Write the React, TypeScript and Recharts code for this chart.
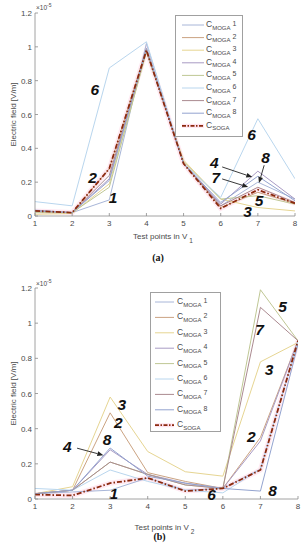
import React from 'react';
import { LineChart, Line, XAxis, YAxis, Legend, ReferenceDot, ReferenceLine } from 'recharts';

const FONT = '"Liberation Sans", Arial, Helvetica, sans-serif';

const testPoints = [1, 2, 3, 4, 5, 6, 7, 8];
const yTicks = [0, 0.2, 0.4, 0.6, 0.8, 1, 1.2];
const mogaKeys = ['m1', 'm2', 'm3', 'm4', 'm5', 'm6', 'm7', 'm8'];
const mogaNames = ['1', '2', '3', '4', '5', '6', '7', '8'];
const mogaColors = ['#a8b6d8', '#cba382', '#e6d592', '#a99bc4', '#bfc794', '#b9d6ee', '#ab8a90', '#93a3cf'];
const sogaColor = '#8b2a0e';
const glowColor = '#ff8fc0';

// V1 (a) values, x 1e-5 V/m
const v1Moga1 = [0.035, 0.02, 0.095, 1.02, 0.31, 0.06, 0.2, 0.1];
const v1Moga2 = [0.03, 0.02, 0.28, 0.99, 0.31, 0.05, 0.14, 0.075];
const v1Moga3 = [0.01, 0.015, 0.19, 0.97, 0.33, 0.1, 0.05, 0.03];
const v1Moga4 = [0.03, 0.02, 0.22, 0.98, 0.31, 0.07, 0.265, 0.1];
const v1Moga5 = [0.02, 0.02, 0.17, 0.97, 0.32, 0.1, 0.12, 0.07];
const v1Moga6 = [0.085, 0.06, 0.875, 1.03, 0.31, 0.11, 0.575, 0.22];
const v1Moga7 = [0.03, 0.02, 0.24, 0.98, 0.31, 0.06, 0.17, 0.08];
const v1Moga8 = [0.03, 0.02, 0.21, 0.99, 0.31, 0.08, 0.235, 0.09];
const v1Soga = [0.03, 0.02, 0.28, 0.98, 0.31, 0.045, 0.155, 0.075];

// V2 (b) values, x 1e-5 V/m
const v2Moga1 = [0.03, 0.04, 0.05, 0.12, 0.05, 0.06, 0.17, 0.9];
const v2Moga2 = [0.03, 0.05, 0.49, 0.15, 0.1, 0.06, 0.35, 0.9];
const v2Moga3 = [0.03, 0.07, 0.58, 0.27, 0.155, 0.13, 0.78, 0.89];
const v2Moga4 = [0.03, 0.05, 0.28, 0.14, 0.09, 0.06, 0.33, 0.9];
const v2Moga5 = [0.03, 0.05, 0.21, 0.14, 0.08, 0.06, 1.19, 0.9];
const v2Moga6 = [0.06, 0.05, 0.165, 0.1, 0.05, 0.035, 0.17, 0.9];
const v2Moga7 = [0.03, 0.05, 0.21, 0.14, 0.08, 0.06, 1.09, 0.9];
const v2Moga8 = [0.03, 0.05, 0.29, 0.13, 0.09, 0.06, 0.045, 0.88];
const v2Soga = [0.025, 0.02, 0.09, 0.12, 0.045, 0.06, 0.165, 0.9];

const v1Labels = [
  { t: '6', x: 2.61, y: 0.745 },
  { t: '2', x: 2.55, y: 0.229 },
  { t: '1', x: 3.1, y: 0.11 },
  { t: '6', x: 6.83, y: 0.479 },
  { t: '4', x: 5.83, y: 0.317 },
  { t: '8', x: 7.21, y: 0.347 },
  { t: '7', x: 5.87, y: 0.226 },
  { t: '5', x: 7.03, y: 0.089 },
  { t: '3', x: 6.72, y: 0.025 },
];
const v1Arrows = [
  { x1: 6.04, y1: 0.29, x2: 6.85, y2: 0.23 },
  { x1: 6.04, y1: 0.219, x2: 6.74, y2: 0.171 },
  { x1: 7.17, y1: 0.3, x2: 7.03, y2: 0.195 },
];

const v2Labels = [
  { t: '5', x: 7.59, y: 1.095 },
  { t: '7', x: 6.98, y: 0.962 },
  { t: '3', x: 7.23, y: 0.738 },
  { t: '3', x: 3.31, y: 0.535 },
  { t: '2', x: 3.22, y: 0.434 },
  { t: '8', x: 2.92, y: 0.34 },
  { t: '4', x: 1.86, y: 0.297 },
  { t: '2', x: 6.76, y: 0.354 },
  { t: '1', x: 3.1, y: 0.034 },
  { t: '6', x: 5.7, y: 0.025 },
  { t: '8', x: 7.32, y: 0.05 },
];
const v2Arrows = [{ x1: 2.12, y1: 0.289, x2: 2.82, y2: 0.249 }];

function buildRows(mogas: number[][], soga: number[]) {
  return testPoints.map((p, i) => {
    const row: any = { p, soga: soga[i] };
    mogaKeys.forEach((k, j) => {
      row[k] = mogas[j][i];
    });
    return row;
  });
}

const v1Data = buildRows([v1Moga1, v1Moga2, v1Moga3, v1Moga4, v1Moga5, v1Moga6, v1Moga7, v1Moga8], v1Soga);
const v2Data = buildRows([v2Moga1, v2Moga2, v2Moga3, v2Moga4, v2Moga5, v2Moga6, v2Moga7, v2Moga8], v2Soga);

const FRAME = '#8a8a8a';
const TEXT = '#4a4a4a';

function Arrow(props: any) {
  const { x1, y1, x2, y2 } = props;
  if ([x1, y1, x2, y2].some((v) => typeof v !== 'number' || isNaN(v))) return <g />;
  const ang = Math.atan2(y2 - y1, x2 - x1);
  const L = 6;
  const W = 2.4;
  const bx = x2 - L * Math.cos(ang);
  const by = y2 - L * Math.sin(ang);
  const px = -Math.sin(ang) * W;
  const py = Math.cos(ang) * W;
  return (
    <g>
      <line x1={x1} y1={y1} x2={bx} y2={by} stroke="#222" strokeWidth={0.9} />
      <polygon points={`${x2},${y2} ${bx + px},${by + py} ${bx - px},${by - py}`} fill="#222" />
    </g>
  );
}

function LegendBox({ w, h, first, step, x0, x1, tx }: any) {
  const entries = [
    ...mogaNames.map((n, i) => ({ sub: 'MOGA', num: ' ' + n, color: mogaColors[i], soga: false })),
    { sub: 'SOGA', num: '', color: sogaColor, soga: true },
  ];
  return (
    <div style={{ width: w, height: h, boxSizing: 'border-box', border: '1px solid #a0a0a0', background: '#fff' }}>
      <svg width={w - 2} height={h - 2} style={{ display: 'block' }}>
        {entries.map((e, i) => {
          const y = first + i * step;
          return (
            <g key={i}>
              {e.soga && <line x1={x0} x2={x1} y1={y} y2={y} stroke={glowColor} strokeOpacity={0.25} strokeWidth={4} />}
              <line
                x1={x0}
                x2={x1}
                y1={y}
                y2={y}
                stroke={e.color}
                strokeWidth={e.soga ? 1.8 : 1}
                strokeDasharray={e.soga ? '4 1.5 1.5 1.5' : undefined}
              />
              <text x={tx} y={y + 2} fontFamily={FONT} fontSize={8.5} fill={TEXT}>
                C
                <tspan fontSize={6} dy={2.5}>{e.sub}</tspan>
                {e.num && <tspan fontSize={7} dy={-3.5}>{e.num}</tspan>}
              </text>
            </g>
          );
        })}
      </svg>
    </div>
  );
}

function Panel(props: any) {
  const { data, labels, arrows, height, margin, legend, sub, caption, tickDy, labelDy, captionDy, expY } = props;
  const bottomTick = (p: any) => {
    const { x, y, payload } = p;
    return (
      <g>
        <line x1={x} x2={x} y1={y} y2={y - 3} stroke={FRAME} strokeWidth={0.8} />
        <text x={x} y={y + tickDy} textAnchor="middle" fontFamily={FONT} fontSize={8} fill={TEXT}>
          {payload.value}
        </text>
      </g>
    );
  };
  const topTick = (p: any) => {
    const { x, y } = p;
    return <line x1={x} x2={x} y1={y} y2={y + 3} stroke={FRAME} strokeWidth={0.8} />;
  };
  const leftTick = (p: any) => {
    const { x, y, payload } = p;
    return (
      <g>
        <line x1={x} x2={x + 3} y1={y} y2={y} stroke={FRAME} strokeWidth={0.8} />
        <text x={x - 3} y={y + 3} textAnchor="end" fontFamily={FONT} fontSize={8} fill={TEXT}>
          {String(payload.value)}
        </text>
      </g>
    );
  };
  const rightTick = (p: any) => {
    const { x, y } = p;
    return <line x1={x} x2={x - 3} y1={y} y2={y} stroke={FRAME} strokeWidth={0.8} />;
  };
  const xLabel = (p: any) => {
    const vb = p.viewBox || {};
    const cx = vb.x + vb.width / 2 - 2;
    return (
      <g>
        <text x={cx} y={vb.y + labelDy} textAnchor="middle" fontFamily={FONT} fontSize={8} fill={TEXT}>
          Test points in V
          <tspan fontSize={6.5} dx={2} dy={4}>{sub}</tspan>
        </text>
        <text
          x={cx - 5}
          y={vb.y + captionDy}
          textAnchor="middle"
          fontFamily='"Liberation Serif", "Times New Roman", serif'
          fontWeight="bold"
          fontSize={10}
          fill="#111"
        >
          {caption}
        </text>
      </g>
    );
  };
  const yLabel = (p: any) => {
    const vb = p.viewBox || {};
    const cx = 16;
    const cy = vb.y + vb.height / 2;
    return (
      <g>
        <text
          x={cx}
          y={cy}
          transform={`rotate(-90 ${cx} ${cy})`}
          textAnchor="middle"
          fontFamily={FONT}
          fontSize={8}
          fill={TEXT}
        >
          Electric field [V/m]
        </text>
        <text x={vb.x + vb.width + 1} y={vb.y - expY} fontFamily={FONT} fontSize={6.5} fill={TEXT}>
          ×10
          <tspan fontSize={5} dy={-3}>-5</tspan>
        </text>
      </g>
    );
  };
  return (
    <LineChart width={305} height={height} data={data} margin={margin} style={{ fontFamily: FONT }}>
      <XAxis
        dataKey="p"
        type="number"
        domain={[1, 8]}
        ticks={testPoints}
        interval={0}
        tickSize={0}
        tickMargin={0}
        tick={bottomTick}
        axisLine={{ stroke: FRAME, strokeWidth: 0.8 }}
        height={20}
        label={xLabel}
        allowDataOverflow
      />
      <XAxis
        xAxisId="top"
        orientation="top"
        dataKey="p"
        type="number"
        domain={[1, 8]}
        ticks={testPoints}
        interval={0}
        tickSize={0}
        tickMargin={0}
        tick={topTick}
        axisLine={{ stroke: FRAME, strokeWidth: 0.8 }}
        height={0}
      />
      <YAxis
        type="number"
        domain={[0, 1.2]}
        ticks={yTicks}
        interval={0}
        tickSize={0}
        tickMargin={0}
        tick={leftTick}
        axisLine={{ stroke: FRAME, strokeWidth: 0.8 }}
        width={22}
        label={yLabel}
        allowDataOverflow
      />
      <YAxis
        yAxisId="right"
        orientation="right"
        type="number"
        domain={[0, 1.2]}
        ticks={yTicks}
        interval={0}
        tickSize={0}
        tickMargin={0}
        tick={rightTick}
        axisLine={{ stroke: FRAME, strokeWidth: 0.8 }}
        width={0}
      />
      <Line
        dataKey="soga"
        stroke={glowColor}
        strokeOpacity={0.2}
        strokeWidth={5}
        dot={false}
        isAnimationActive={false}
        legendType="none"
      />
      {mogaKeys.map((k, i) => (
        <Line
          key={k}
          dataKey={k}
          name={'C MOGA ' + mogaNames[i]}
          stroke={mogaColors[i]}
          strokeWidth={1}
          dot={false}
          isAnimationActive={false}
        />
      ))}
      <Line
        dataKey="soga"
        name="C SOGA"
        stroke={sogaColor}
        strokeWidth={1.8}
        strokeDasharray="5 2 1.5 2"
        dot={false}
        isAnimationActive={false}
      />
      {arrows.map((a: any, i: number) => (
        <ReferenceLine
          key={'a' + i}
          segment={[
            { x: a.x1, y: a.y1 },
            { x: a.x2, y: a.y2 },
          ]}
          ifOverflow="visible"
          shape={(sp: any) => <Arrow {...sp} />}
        />
      ))}
      {labels.map((l: any, i: number) => (
        <ReferenceDot
          key={'l' + i}
          x={l.x}
          y={l.y}
          r={0}
          ifOverflow="visible"
          shape={(sp: any) => (
            <text
              x={sp.cx}
              y={sp.cy}
              textAnchor="middle"
              dominantBaseline="central"
              fontFamily={FONT}
              fontWeight="bold"
              fontStyle="italic"
              fontSize={15.5}
              fill="#111"
            >
              {l.t}
            </text>
          )}
        />
      ))}
      <Legend
        layout="vertical"
        align="center"
        verticalAlign="middle"
        wrapperStyle={{ left: legend.left, top: legend.top, width: legend.w, height: legend.h, right: 'auto', bottom: 'auto' }}
        content={() => (
          <LegendBox w={legend.w} h={legend.h} first={legend.first} step={legend.step} x0={legend.x0} x1={legend.x1} tx={legend.tx} />
        )}
      />
    </LineChart>
  );
}

export default function App() {
  return (
    <div style={{ position: 'absolute', left: 0, top: 0, width: 305, height: 550, background: '#fff' }}>
      <Panel
        data={v1Data}
        labels={v1Labels}
        arrows={v1Arrows}
        height={270}
        margin={{ top: 13, right: 10, bottom: 34, left: 13 }}
        legend={{ left: 175, top: 15, w: 68, h: 122, first: 9, step: 12.6, x0: 6, x1: 28, tx: 30 }}
        sub="1"
        caption="(a)"
        tickDy={10}
        labelDy={23}
        captionDy={45}
        expY={3}
      />
      <Panel
        data={v2Data}
        labels={v2Labels}
        arrows={v2Arrows}
        height={280}
        margin={{ top: 18, right: 7, bottom: 31, left: 13 }}
        legend={{ left: 150, top: 22, w: 71, h: 140, first: 9, step: 15.4, x0: 4, x1: 23, tx: 26 }}
        sub="2"
        caption="(b)"
        tickDy={9.5}
        labelDy={31}
        captionDy={41}
        expY={2}
      />
    </div>
  );
}
